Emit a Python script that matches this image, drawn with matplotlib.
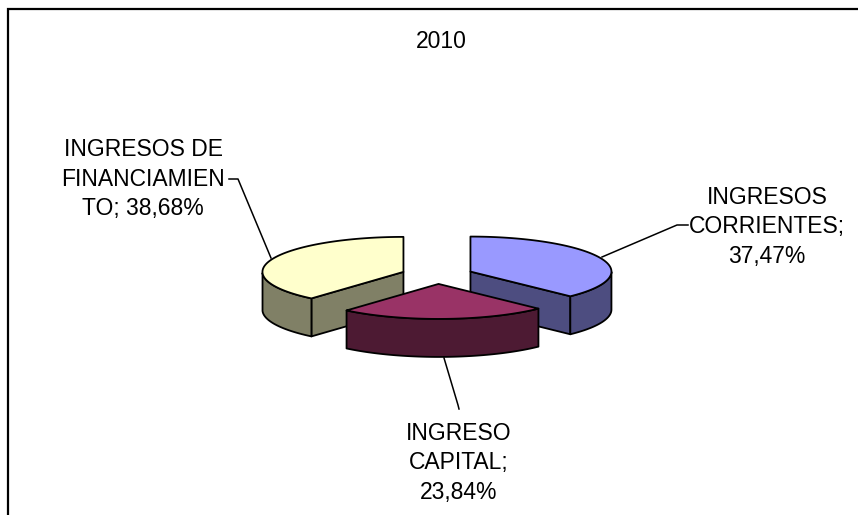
import numpy as np
import matplotlib
matplotlib.use("Agg")
import matplotlib.pyplot as plt
from matplotlib.patches import Polygon

plt.rcParams["font.family"] = ["Liberation Sans", "DejaVu Sans"]

# share of each slice, clockwise from 12 o'clock: corrientes, capital, financiamiento
values = [37.47, 23.84, 38.68]
top_colors = ["#9999FF", "#993366", "#FFFFCC"]
side_colors = ["#4D4D80", "#4D1A33", "#808066"]
label_lines = [["INGRESOS", "CORRIENTES;", "37,47%"],
               ["INGRESO", "CAPITAL;", "23,84%"],
               ["INGRESOS DE", "FINANCIAMIEN", "TO; 38,68%"]]

# pie geometry, in pixels of the picture
cx, cy = 437.2, 275.0
rx, ry = 141.0, 35.0
depth = 38.0
explode = 36.0


def outer(x0, y0, a):
    return x0 + rx * np.sin(a), y0 - ry * np.cos(a)


fig = plt.figure(figsize=(8.58, 5.15), dpi=100)
ax = fig.add_axes([0, 0, 1, 1])
ax.set_xlim(0, 858)
ax.set_ylim(515, 0)
ax.axis("off")

# outer frame, the bottom and right edges are cropped off
ax.plot([8, 8, 858], [515, 9, 9], color="black", lw=1.6,
        solid_joinstyle="miter")

fracs = np.array(values) / sum(values) * 2 * np.pi
starts = np.concatenate([[0], np.cumsum(fracs)[:-1]])

# yellow and blue first, the red slice sits in front of both
for i in [2, 0, 1]:
    a0, a1 = starts[i], starts[i] + fracs[i]
    mid = (a0 + a1) / 2
    x0 = cx + explode * np.sin(mid)
    y0 = cy - explode * np.cos(mid) * ry / rx
    ang = np.linspace(a0, a1, 80)
    xs, ys = outer(x0, y0, ang)
    kw = {"ec": "black", "lw": 1.3, "joinstyle": "round"}

    # cut faces that look towards the viewer
    if i != 1:
        for a in [a0, a1]:
            ex, ey = outer(x0, y0, a)
            if np.cos(a) < 0.99:
                face = [(x0, y0), (ex, ey), (ex, ey + depth), (x0, y0 + depth)]
                ax.add_patch(Polygon(face, fc=side_colors[i], **kw))

    # rim, only the front half of the ellipse shows
    front = np.cos(ang) <= 0
    rim = list(zip(xs[front], ys[front])) + \
        list(zip(xs[front][::-1], ys[front][::-1] + depth))
    ax.add_patch(Polygon(rim, fc=side_colors[i], **kw))

    # top of the slice
    ax.add_patch(Polygon([(x0, y0)] + list(zip(xs, ys)),
                         fc=top_colors[i], **kw))

# leader lines
line = {"color": "black", "lw": 1.1, "solid_joinstyle": "round"}
ax.plot([229, 238, 271], [179, 179, 258], **line)
ax.plot([602, 677, 688], [257, 225, 225], **line)
ax.plot([444, 458, 459], [358, 405, 409], **line)

# labels
txt = {"fontsize": 16.5, "ha": "center", "va": "center", "color": "black"}
ax.text(441, 41, "2010", **txt)
for y, s in zip([149, 179, 209], label_lines[2]):
    ax.text(143, y, s, **txt)
for y, s in zip([197, 227, 256], label_lines[0]):
    ax.text(767, y, s, **txt)
for y, s in zip([433, 463, 493], label_lines[1]):
    ax.text(459, y, s, **txt)

fig.savefig("out.png", dpi=100)
